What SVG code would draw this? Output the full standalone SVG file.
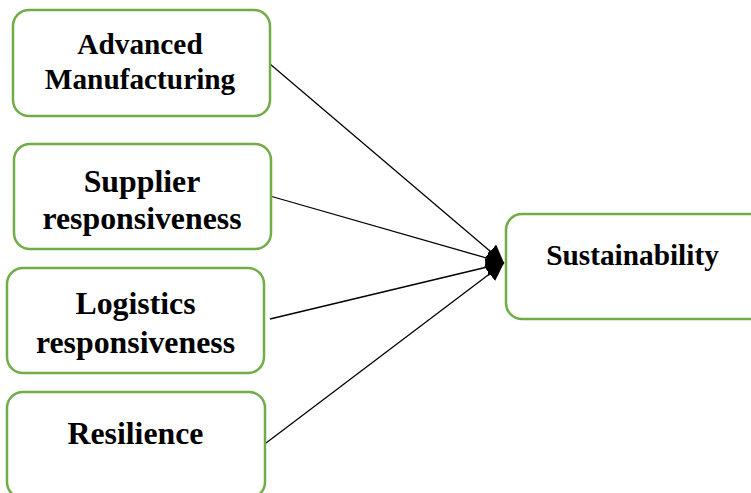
<svg xmlns="http://www.w3.org/2000/svg" width="751" height="493" viewBox="0 0 751 493">
<style>
.box{fill:#fff;stroke:#70AD47;stroke-width:2.5}
.t{font-family:"Liberation Serif","Times New Roman",serif;font-weight:bold;font-size:29.3px;fill:#000;text-anchor:middle}
.L{font-size:31.8px}
.c{stroke:#000;stroke-width:1.3;fill:none;marker-end:url(#ah)}
</style>
<defs>
<marker id="ah" viewBox="0 0 10 10" refX="10" refY="5" markerWidth="18" markerHeight="18" markerUnits="userSpaceOnUse" orient="auto">
<path d="M0,0 L10,5 L0,10 Z" fill="#000"/>
</marker>
</defs>
<rect width="751" height="493" fill="#fff"/>
<g id="connectors">
<line class="c" x1="270" y1="64" x2="504" y2="263"/>
<line class="c" x1="270" y1="196" x2="504" y2="263"/>
<line class="c" x1="270" y1="319" x2="504" y2="263"/>
<line class="c" x1="266" y1="443" x2="504" y2="263"/>
</g>
<g id="advanced-manufacturing">
<rect class="box" x="13" y="10" width="257" height="106" rx="16"/>
<text class="t" x="140" y="54">Advanced</text>
<text class="t" x="140" y="89">Manufacturing</text>
</g>
<g id="supplier-responsiveness">
<rect class="box" x="14" y="144" width="257" height="105" rx="16"/>
<text class="t L" x="142" y="191.5">Supplier</text>
<text class="t L" x="142" y="229">responsiveness</text>
</g>
<g id="logistics-responsiveness">
<rect class="box" x="7" y="268" width="257" height="105" rx="16"/>
<text class="t L" x="135.5" y="314">Logistics</text>
<text class="t L" x="135.5" y="353">responsiveness</text>
</g>
<g id="resilience">
<rect class="box" x="7" y="392" width="258" height="106" rx="16"/>
<text class="t L" x="135.5" y="444">Resilience</text>
</g>
<g id="sustainability">
<rect class="box" x="506" y="214" width="260" height="105" rx="16"/>
<text class="t" x="632.5" y="265">Sustainability</text>
</g>
</svg>
